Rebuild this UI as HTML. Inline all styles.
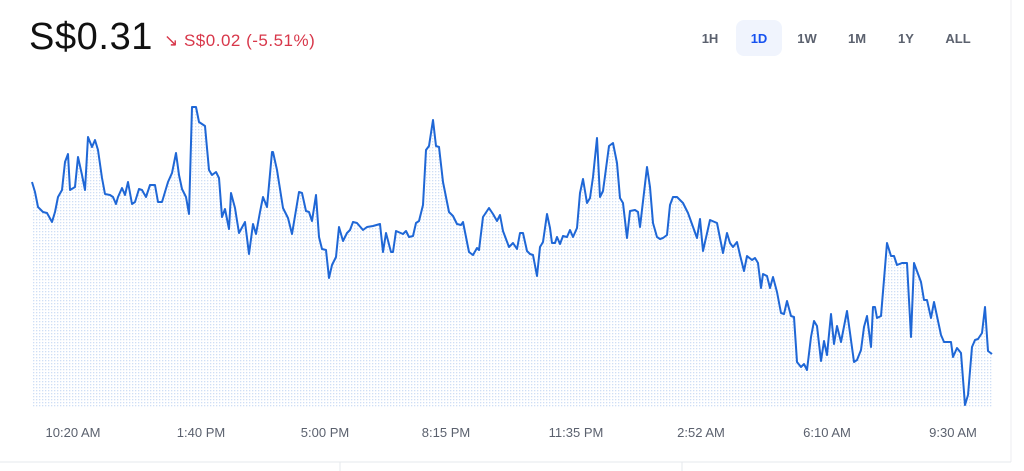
<!DOCTYPE html>
<html><head><meta charset="utf-8"><style>
body{margin:0;width:1024px;height:471px;background:#fff;overflow:hidden;position:relative;font-family:"Liberation Sans",sans-serif}
.price{position:absolute;left:29px;top:16px;font-size:38px;color:#111;letter-spacing:0.6px}
.chg{position:absolute;left:164px;top:31px;font-size:17px;color:#d8374a;letter-spacing:0.5px}
.btn{position:absolute;top:31px;font-size:13px;font-weight:bold;color:#5b616e;transform:translateX(-50%)}
.sel{position:absolute;left:736px;top:20px;width:46px;height:36px;background:#f0f4fd;border-radius:8px}
.lbl{position:absolute;top:425px;font-size:13px;color:#5b616e;transform:translateX(-50%);white-space:nowrap}
</style></head><body>
<div class="price">S$0.31</div>
<div class="chg">↘ S$0.02 (-5.51%)</div>
<div class="sel"></div>
<div class="btn" style="left:710px">1H</div>
<div class="btn" style="left:759px;color:#1652f0">1D</div>
<div class="btn" style="left:807px">1W</div>
<div class="btn" style="left:857px">1M</div>
<div class="btn" style="left:906px">1Y</div>
<div class="btn" style="left:958px">ALL</div>
<svg width="1024" height="471" style="position:absolute;left:0;top:0">
<defs><pattern id="d" width="3" height="3" patternUnits="userSpaceOnUse"><rect width="1.3" height="1.3" fill="#cfdef5"/></pattern></defs>
<polygon id="fill" fill="url(#d)" points=""/>
<polyline id="ln" fill="none" stroke="#1f67d6" stroke-width="2" stroke-linejoin="round" points=""/>
<line x1="1011" y1="0" x2="1011" y2="462" stroke="#eceef1"/>
<line x1="0" y1="462" x2="1011" y2="462" stroke="#e6e8ec"/>
<line x1="340" y1="462" x2="340" y2="471" stroke="#e6e8ec"/>
<line x1="682" y1="462" x2="682" y2="471" stroke="#e6e8ec"/>
</svg>
<div class="lbl" style="left:73px">10:20 AM</div>
<div class="lbl" style="left:201px">1:40 PM</div>
<div class="lbl" style="left:325px">5:00 PM</div>
<div class="lbl" style="left:446px">8:15 PM</div>
<div class="lbl" style="left:576px">11:35 PM</div>
<div class="lbl" style="left:701px">2:52 AM</div>
<div class="lbl" style="left:827px">6:10 AM</div>
<div class="lbl" style="left:953px">9:30 AM</div>
<script>
var p="32,182 35,192 38,207 43,212 47,213 52,222 55,212 58,197 62,190 65,162 68,154 70,190 75,187 78,157 82,175 85,190 88,137 92,147 95,140 98,150 102,178 105,194 110,195 113,197 116,204 118,197 122,188 125,195 128,182 132,204 135,202 139,189 142,190 146,197 150,185 155,185 158,202 162,202 168,182 172,173 176,153 179,175 182,189 186,197 189,214 192,107 196,107 199,122 205,126 209,170 212,175 216,172 219,178 222,217 225,209 229,229 231,193 235,208 239,233 245,222 249,254 253,224 256,234 260,212 263,197 267,207 272,152 273,152 277,170 283,208 288,218 292,234 299,192 302,193 306,211 309,212 312,221 316,195 319,237 322,249 326,250 329,278 332,265 336,257 339,227 343,241 347,233 350,230 353,222 357,223 363,230 367,227 373,226 380,224 383,252 386,233 391,252 393,252 396,231 403,234 406,231 409,237 413,236 416,223 419,221 423,205 426,150 429,146 433,120 436,146 439,147 443,182 449,212 453,216 457,224 461,225 463,222 469,252 473,255 477,248 479,250 483,217 489,208 493,214 497,221 500,215 503,231 509,247 513,243 517,249 520,233 523,233 527,251 530,254 533,255 537,276 540,247 543,242 547,214 550,228 552,243 555,243 557,237 560,244 563,236 567,237 570,230 573,237 577,228 580,193 583,179 587,203 590,198 593,177 597,138 600,197 603,191 609,146 613,143 617,163 620,198 623,203 627,238 630,211 635,210 638,212 640,227 647,167 650,187 653,223 657,237 660,239 663,238 667,235 670,205 673,197 677,197 683,203 688,213 697,238 700,219 703,251 710,220 717,223 723,253 727,233 730,243 733,247 737,242 740,255 744,271 747,256 752,260 755,258 758,263 761,288 763,274 767,276 770,288 773,277 777,292 781,313 784,314 787,301 791,316 794,317 797,362 801,367 804,364 807,370 811,337 814,321 817,326 821,361 824,341 827,355 831,314 834,344 837,326 841,342 847,311 854,362 857,360 861,350 864,327 867,316 871,347 873,307 875,307 877,318 881,316 887,243 891,256 894,256 897,265 902,263 907,263 911,337 914,263 921,282 924,300 927,300 931,318 934,302 941,335 944,342 951,342 953,357 957,348 961,353 965,405 968,395 972,347 975,340 978,339 982,333 985,307 988,351 992,354";
document.getElementById('ln').setAttribute('points',p);
document.getElementById('fill').setAttribute('points',p+" 992,407 32,407");
</script>
</body></html>
